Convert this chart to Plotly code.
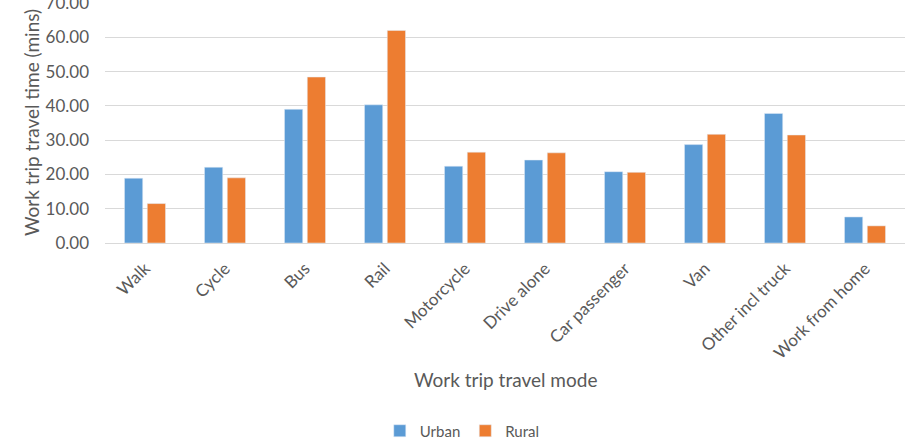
import plotly.graph_objects as go

categories = ["Walk", "Cycle", "Bus", "Rail", "Motorcycle", "Drive alone",
              "Car passenger", "Van", "Other incl truck", "Work from home"]
urban = [18.9, 22.1, 39.0, 40.3, 22.4, 24.2, 20.8, 28.7, 37.8, 7.6]
rural = [11.5, 19.0, 48.4, 62.0, 26.5, 26.3, 20.6, 31.7, 31.5, 5.0]

FONT = "Lato, 'Open Sans', sans-serif"
GRAY = "#595959"

fig = go.Figure()
fig.add_trace(go.Bar(name="Urban", x=categories, y=urban, marker_color="#5B9BD5"))
fig.add_trace(go.Bar(name="Rural", x=categories, y=rural, marker_color="#ED7D31"))

fig.update_layout(
    width=910, height=444,
    margin=dict(l=105, r=5, t=3, b=201, autoexpand=False),
    paper_bgcolor="white", plot_bgcolor="white",
    barmode="group", bargap=0.43, bargroupgap=0.2,
    font=dict(family=FONT, color=GRAY, size=16),
    showlegend=True,
    legend=dict(orientation="h", xref="container", yref="container",
                x=0.508, xanchor="center", y=1 - 431 / 444, yanchor="middle",
                font=dict(size=15, color=GRAY), itemwidth=30, traceorder="normal"),
    xaxis=dict(tickangle=-45, showgrid=False, showline=True, linecolor="#d9d9d9",
               ticks="", tickfont=dict(size=17, color=GRAY), automargin=False,
               ticklabelstandoff=8),
    yaxis=dict(range=[0, 70.001], dtick=10, tickformat=".2f", showgrid=True,
               gridcolor="#d9d9d9", zeroline=False, showline=False, ticks="",
               tickfont=dict(size=17, color=GRAY), automargin=False,
               ticklabelstandoff=15, ticklabeloverflow="allow"),
    annotations=[
        dict(text="Work trip travel mode", xref="paper", yref="paper",
             x=0.5, y=-0.567, xanchor="center", yanchor="middle",
             showarrow=False, font=dict(size=19, color=GRAY)),
        dict(text="Work trip travel time (mins)", xref="paper", yref="paper",
             x=(31 - 105) / 800, y=0.5, xanchor="center", yanchor="middle",
             textangle=-90, showarrow=False, font=dict(size=19, color=GRAY)),
    ],
)

fig.write_html("out.html")
